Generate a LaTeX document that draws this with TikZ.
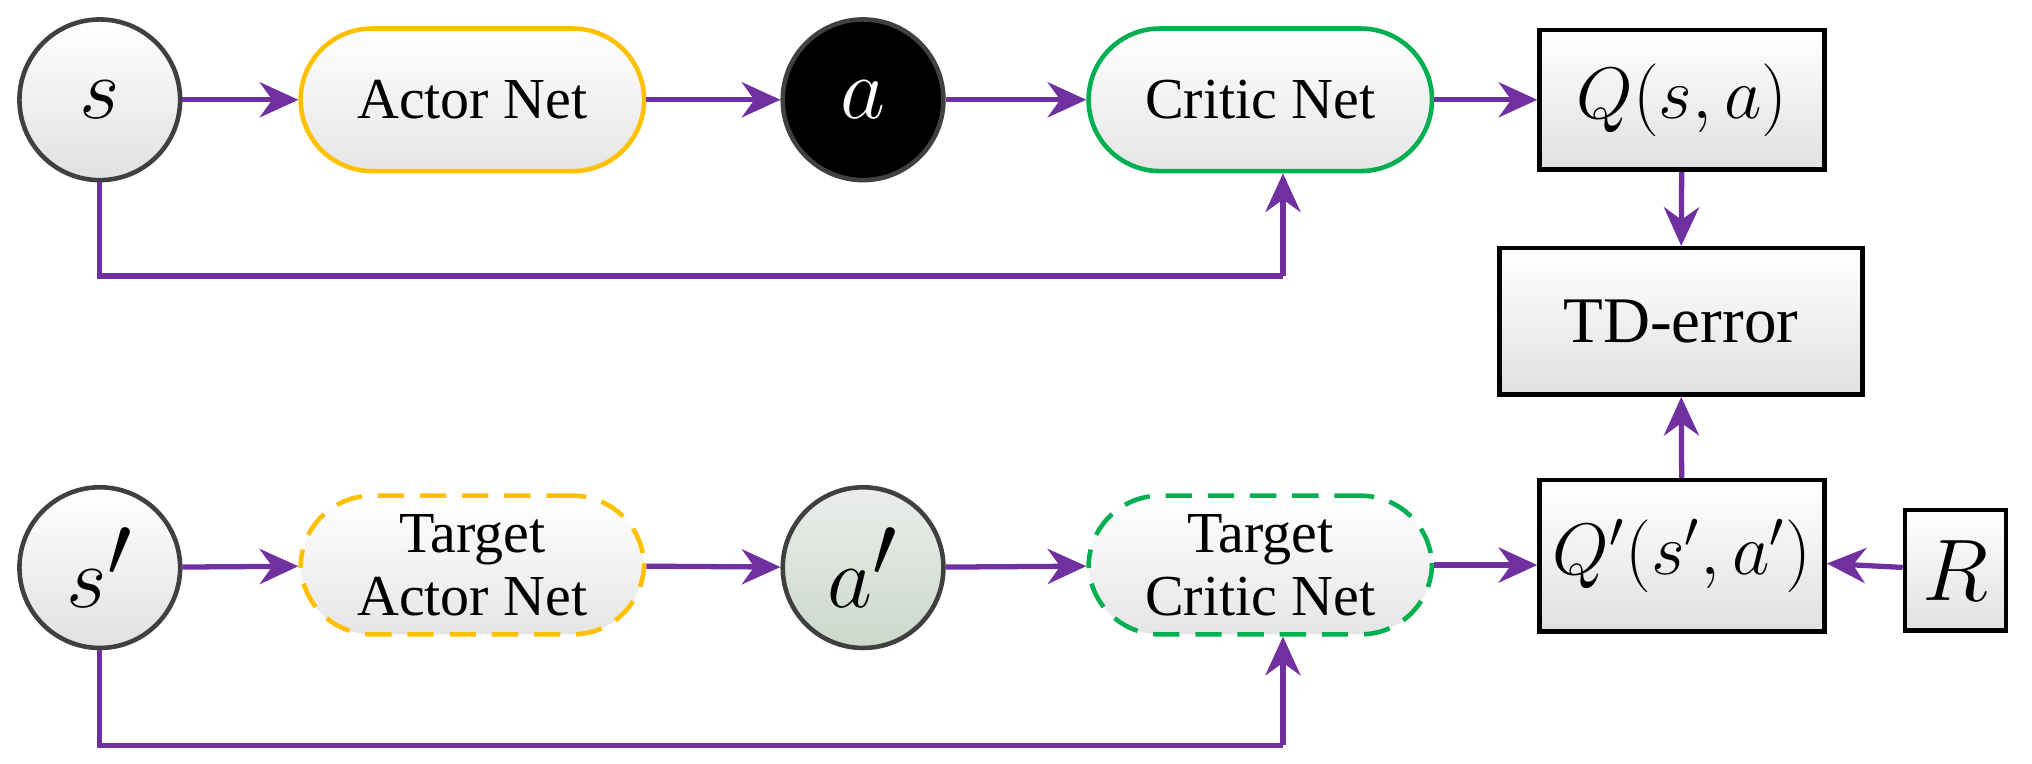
\documentclass[tikz,border=0pt]{standalone}
\usepackage{fontspec}
\setmainfont{Liberation Serif}
\usetikzlibrary{arrows.meta}
\definecolor{pur}{HTML}{7030A0}
\definecolor{org}{HTML}{FFC000}
\definecolor{grn}{HTML}{00B050}
\begin{document}
\begin{tikzpicture}[x=0.01296cm,y=-0.01296cm,
 circ/.style={circle,draw=black!75,line width=1.3pt,minimum size=124*0.01296cm,inner sep=0pt,top color=white,bottom color=black!12,font=\fontsize{36}{36}\selectfont},
 net/.style={rounded corners=55*0.01296cm,line width=1.3pt,top color=white,bottom color=black!10,minimum width=265*0.01296cm,minimum height=110*0.01296cm,align=center,font=\fontsize{16.5}{18}\selectfont},
 box/.style={draw=black,line width=1.3pt,top color=white,bottom color=black!12,minimum height=108*0.01296cm,inner sep=1pt,font=\fontsize{20.5}{22}\selectfont},
 arr/.style={draw=pur,line width=1.5pt,-{Stealth[length=11pt,width=10pt]}},
 ln/.style={draw=pur,line width=1.5pt},
 dsh/.style={dashed,dash pattern=on 7.5pt off 4.5pt}]
\useasboundingbox (0,0) rectangle (1568,589);
\node[circ] (s) at (77,77) {$s$};
\node[net,draw=org] (an) at (364.5,77) {Actor Net};
\node[circ,fill=black,top color=black,bottom color=black,text=white] (a) at (666,77) {$a$};
\node[net,draw=grn] (cn) at (972.5,77) {Critic Net};
\node[box,minimum width=220*0.01296cm] (q) at (1298,77) {$Q\bigl(s,a\bigr)$};
\node[box,minimum width=280*0.01296cm,minimum height=113*0.01296cm,font=\fontsize{18.5}{20}\selectfont] (td) at (1297,248) {TD-error};
\node[box,minimum width=220*0.01296cm,minimum height=117*0.01296cm] (qp) at (1298,429) {$Q'\bigl(s',a'\bigr)$};
\node[box,minimum width=78*0.01296cm,minimum height=93*0.01296cm,font=\fontsize{23}{24}\selectfont] (r) at (1509,440) {$R$};
\node[circ] (sp) at (77,438) {$s'$};
\node[net,draw=org,dsh,minimum height=107*0.01296cm] (tan) at (364.5,436) {Target\\Actor Net};
\node[circ,top color=green!10!black!8,bottom color=green!25!black!20] (ap) at (666,438) {$a'$};
\node[net,draw=grn,dsh,minimum height=107*0.01296cm] (tcn) at (972.5,436) {Target\\Critic Net};
\draw[arr] (s) -- (an);
\draw[arr] (an) -- (a);
\draw[arr] (a) -- (cn);
\draw[arr] (cn) -- (q);
\draw[arr] (q) -- (td);
\draw[arr] (qp) -- (td);
\draw[arr] (r) -- (qp);
\draw[arr] (sp) -- (tan);
\draw[arr] (tan) -- (ap);
\draw[arr] (ap) -- (tcn);
\draw[arr] (tcn.east) -- (qp.west|-tcn.east);
\coordinate (c1) at (77,213);
\coordinate (c2) at (990,213);
\draw[ln] (s) -- (c1) -- (c2);
\draw[arr] (c2) -- (cn.south-|c2);
\coordinate (c3) at (77,575);
\coordinate (c4) at (990,575);
\draw[ln] (sp) -- (c3) -- (c4);
\draw[arr] (c4) -- (tcn.south-|c4);
\end{tikzpicture}
\end{document}
